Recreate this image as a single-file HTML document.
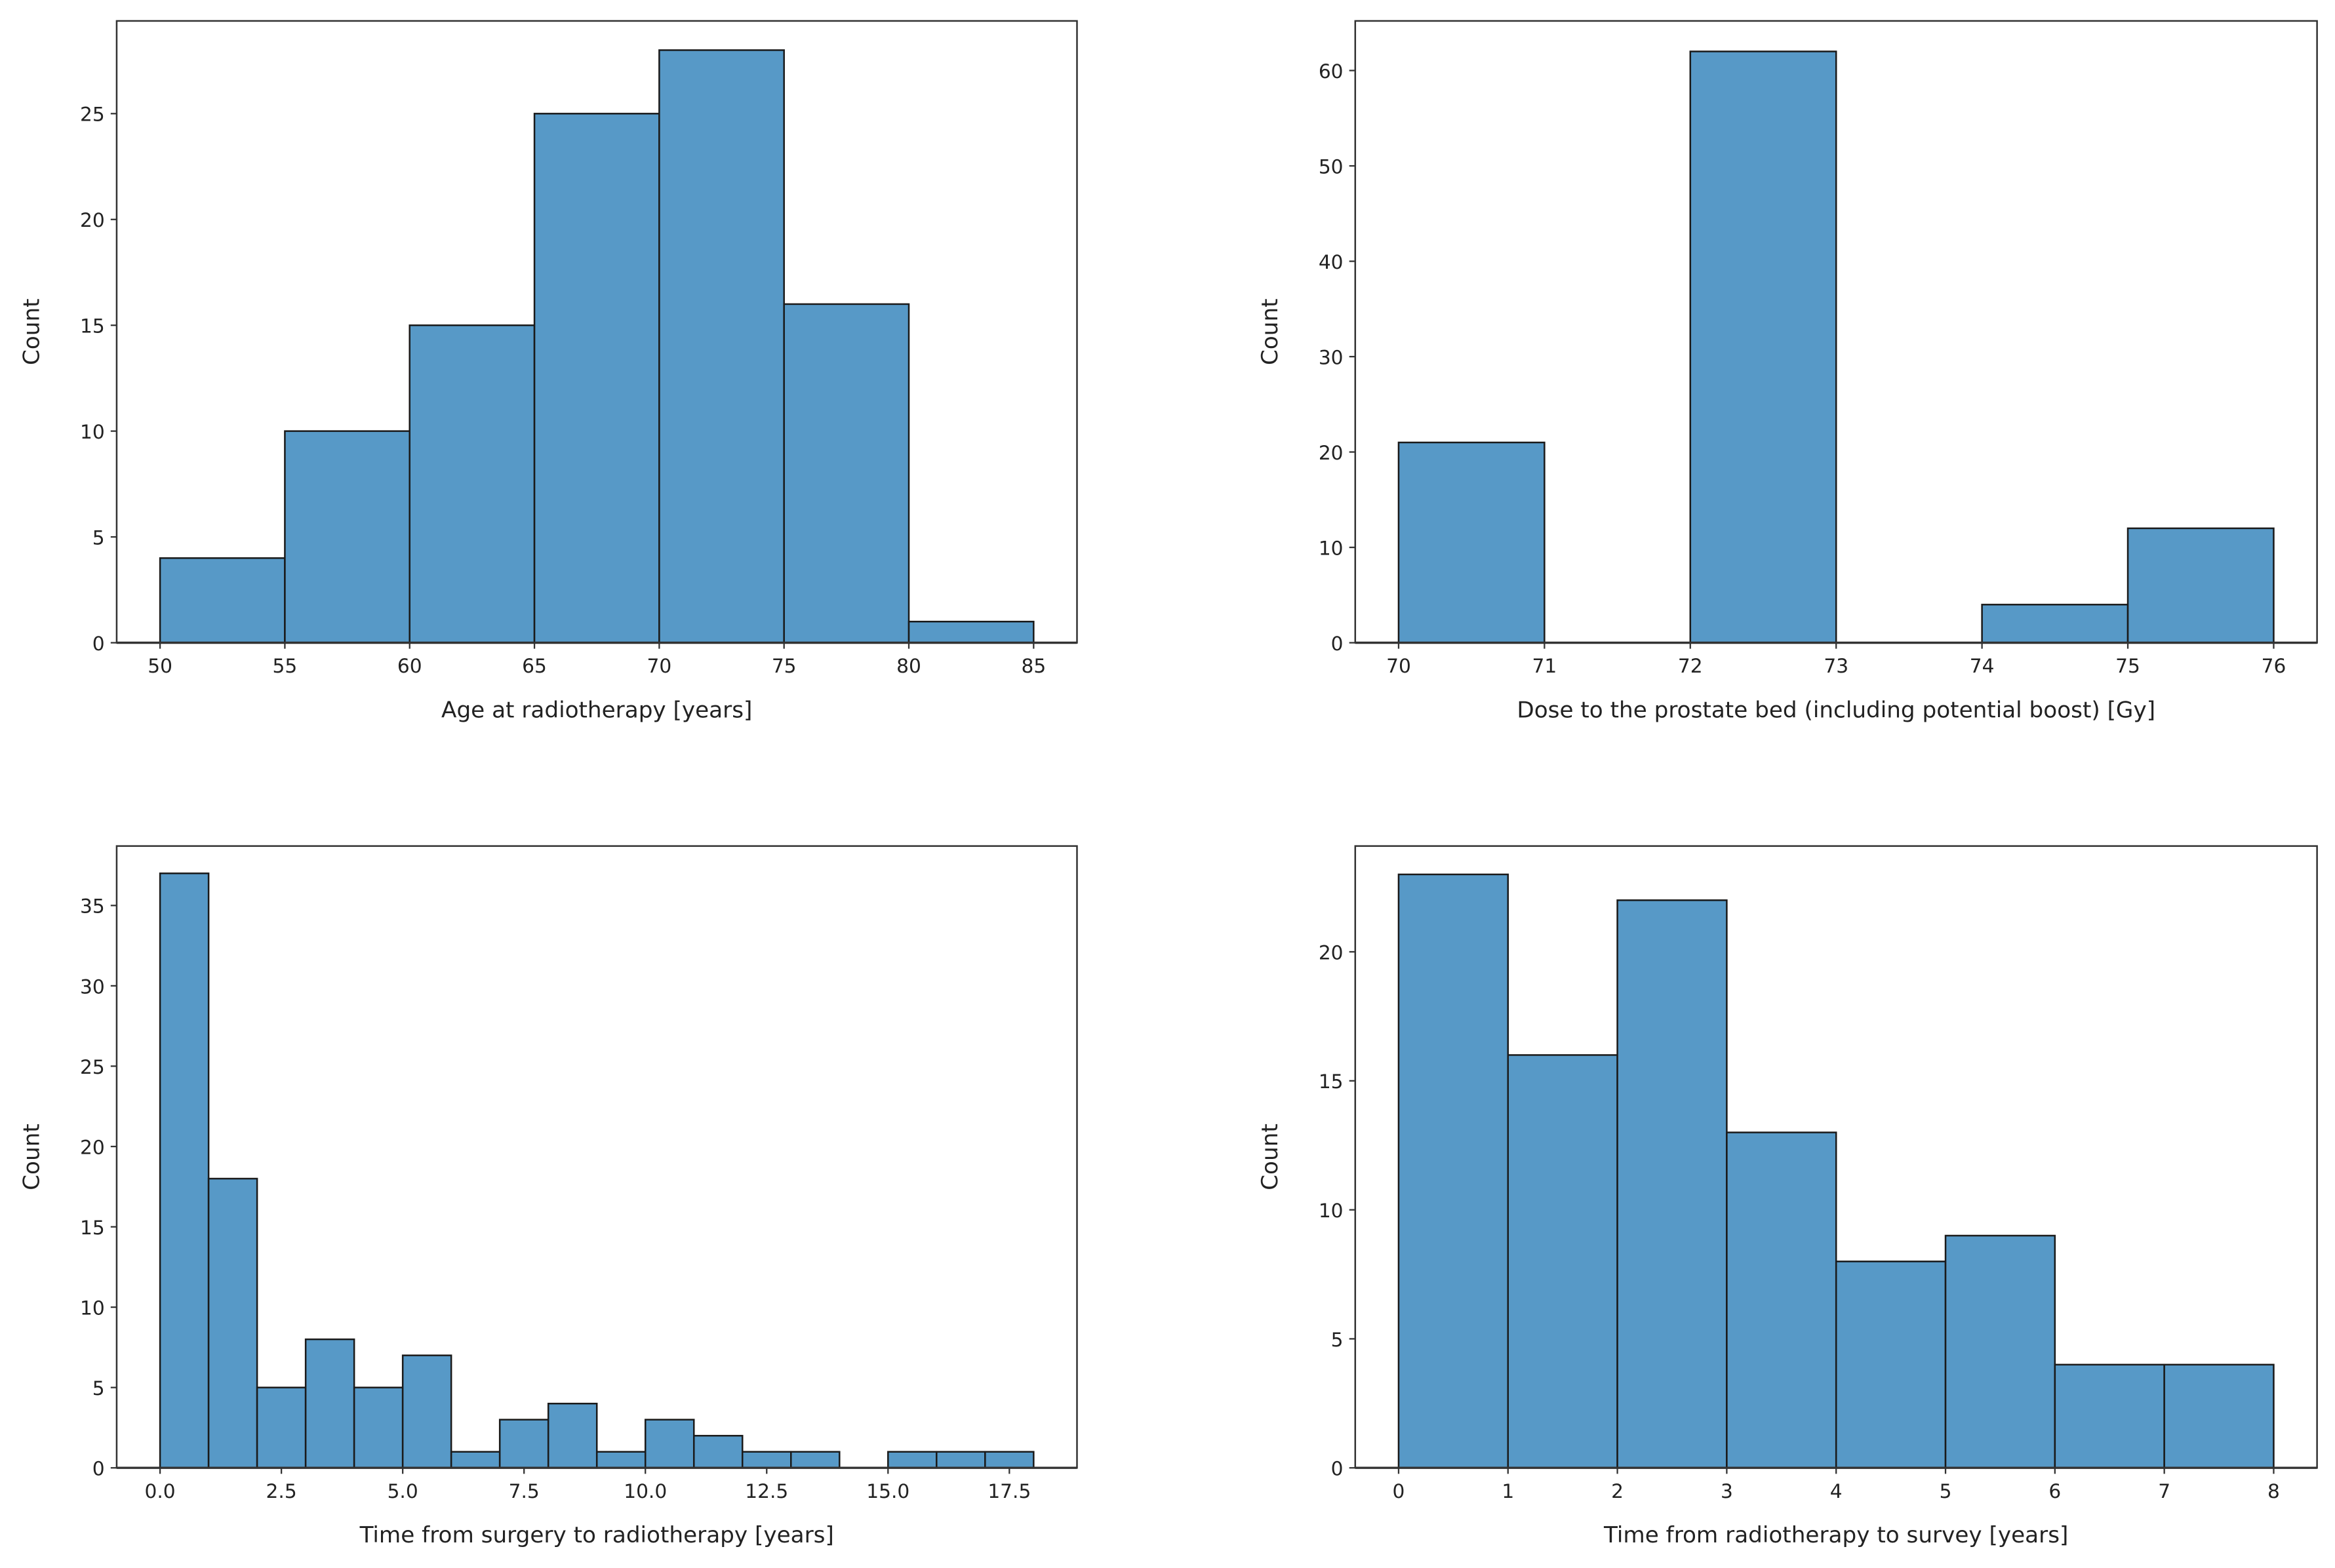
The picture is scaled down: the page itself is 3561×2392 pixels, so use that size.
<!DOCTYPE html>
<html><head><meta charset="utf-8"><style>
html,body{margin:0;padding:0;background:#fff}
svg{display:block}
text{font-family:"DejaVu Sans","Liberation Sans",sans-serif;fill:#222}
</style></head><body>
<svg id="fig" width="3561" height="2392" viewBox="0 0 1561 1049" preserveAspectRatio="none" xmlns="http://www.w3.org/2000/svg"></svg>
<script>
// Panel 1: Age
const ageEdges=[50,55,60,65,70,75,80,85];
const ageCounts=[4,10,15,25,28,16,1];
const ageXTicks=[50,55,60,65,70,75,80,85];
const ageYTicks=[0,5,10,15,20,25];
// Panel 2: Dose
const doseEdges=[70,71,72,73,74,75,76];
const doseCounts=[21,0,62,0,4,12];
const doseXTicks=[70,71,72,73,74,75,76];
const doseYTicks=[0,10,20,30,40,50,60];
// Panel 3: Surgery to RT
const surgEdges=[0,1,2,3,4,5,6,7,8,9,10,11,12,13,14,15,16,17,18];
const surgCounts=[37,18,5,8,5,7,1,3,4,1,3,2,1,1,0,1,1,1];
const surgXTicks=[0,2.5,5,7.5,10,12.5,15,17.5];
const surgYTicks=[0,5,10,15,20,25,30,35];
// Panel 4: RT to survey
const survEdges=[0,1,2,3,4,5,6,7,8];
const survCounts=[23,16,22,13,8,9,4,4];
const survXTicks=[0,1,2,3,4,5,6,7,8];
const survYTicks=[0,5,10,15,20];

const NS="http://www.w3.org/2000/svg";
const svg=document.getElementById('fig');
function mk(tag,attrs,parent){const e=document.createElementNS(NS,tag);for(const k in attrs)e.setAttribute(k,attrs[k]);(parent||svg).appendChild(e);return e;}

function panel(id,box,xmin,xmax,ymax,edges,counts,xt,yt,xfmt,xlabel){
  const g=mk('g',{});
  
  
  const [L,T,R,B,x0px,x1px]=box;
  const sx=v=>x0px+(v-xmin)/(xmax-xmin)*(x1px-x0px);
  const sy=v=>B-v/ymax*(B-T);
  for(let i=0;i<counts.length;i++){
    if(counts[i]<=0)continue;
    const r=mk('rect',{x:sx(edges[i]),y:sy(counts[i]),width:sx(edges[i+1])-sx(edges[i]),height:B-sy(counts[i]),fill:'#5799c7',stroke:'#1a1a1a','stroke-width':1.1},g);
    
    
  }
  const fr=mk('rect',{x:L,y:T,width:R-L,height:B-T,fill:'none',stroke:'#333','stroke-width':1.1},g);
  
  
  mk('line',{x1:L,y1:B,x2:R,y2:B,stroke:'#333','stroke-width':1.5},g);
  xt.forEach(v=>{
    const x=sx(v);
    mk('line',{x1:x,y1:B,x2:x,y2:B+4,stroke:'#333','stroke-width':1},g);
    const t=mk('text',{x:x,y:B+20,'font-size':13,'text-anchor':'middle'},g);
    t.textContent=xfmt(v);
    
    
  });
  yt.forEach(v=>{
    const y=sy(v);
    mk('line',{x1:L-4,y1:y,x2:L,y2:y,stroke:'#333','stroke-width':1},g);
    const t=mk('text',{x:L-8,y:y+5,'font-size':13,'text-anchor':'end'},g);
    t.textContent=v;
    
    
  });
  const xl=mk('text',{x:(L+R)/2,y:B+50,'font-size':15,'text-anchor':'middle'},g);
  xl.textContent=xlabel;
  
  
  const cy=(T+B)/2;
  const yl=mk('text',{x:L-52,y:cy,'font-size':15,'text-anchor':'middle',transform:`rotate(-90 ${L-52} ${cy})`},g);
  yl.textContent='Count';
  
  
}
panel('age',[78,14,720,430,107,691],50,85,29.38,ageEdges,ageCounts,ageXTicks,ageYTicks,v=>String(v),'Age at radiotherapy [years]');
panel('dose',[906,14,1549,430,935,1520],70,76,65.2,doseEdges,doseCounts,doseXTicks,doseYTicks,v=>String(v),'Dose to the prostate bed (including potential boost) [Gy]');
panel('surgery',[78,566,720,982,107,691],0,18,38.7,surgEdges,surgCounts,surgXTicks,surgYTicks,v=>v.toFixed(1),'Time from surgery to radiotherapy [years]');
panel('survey',[906,566,1549,982,935,1520],0,8,24.1,survEdges,survCounts,survXTicks,survYTicks,v=>String(v),'Time from radiotherapy to survey [years]');
</script>
</body></html>
